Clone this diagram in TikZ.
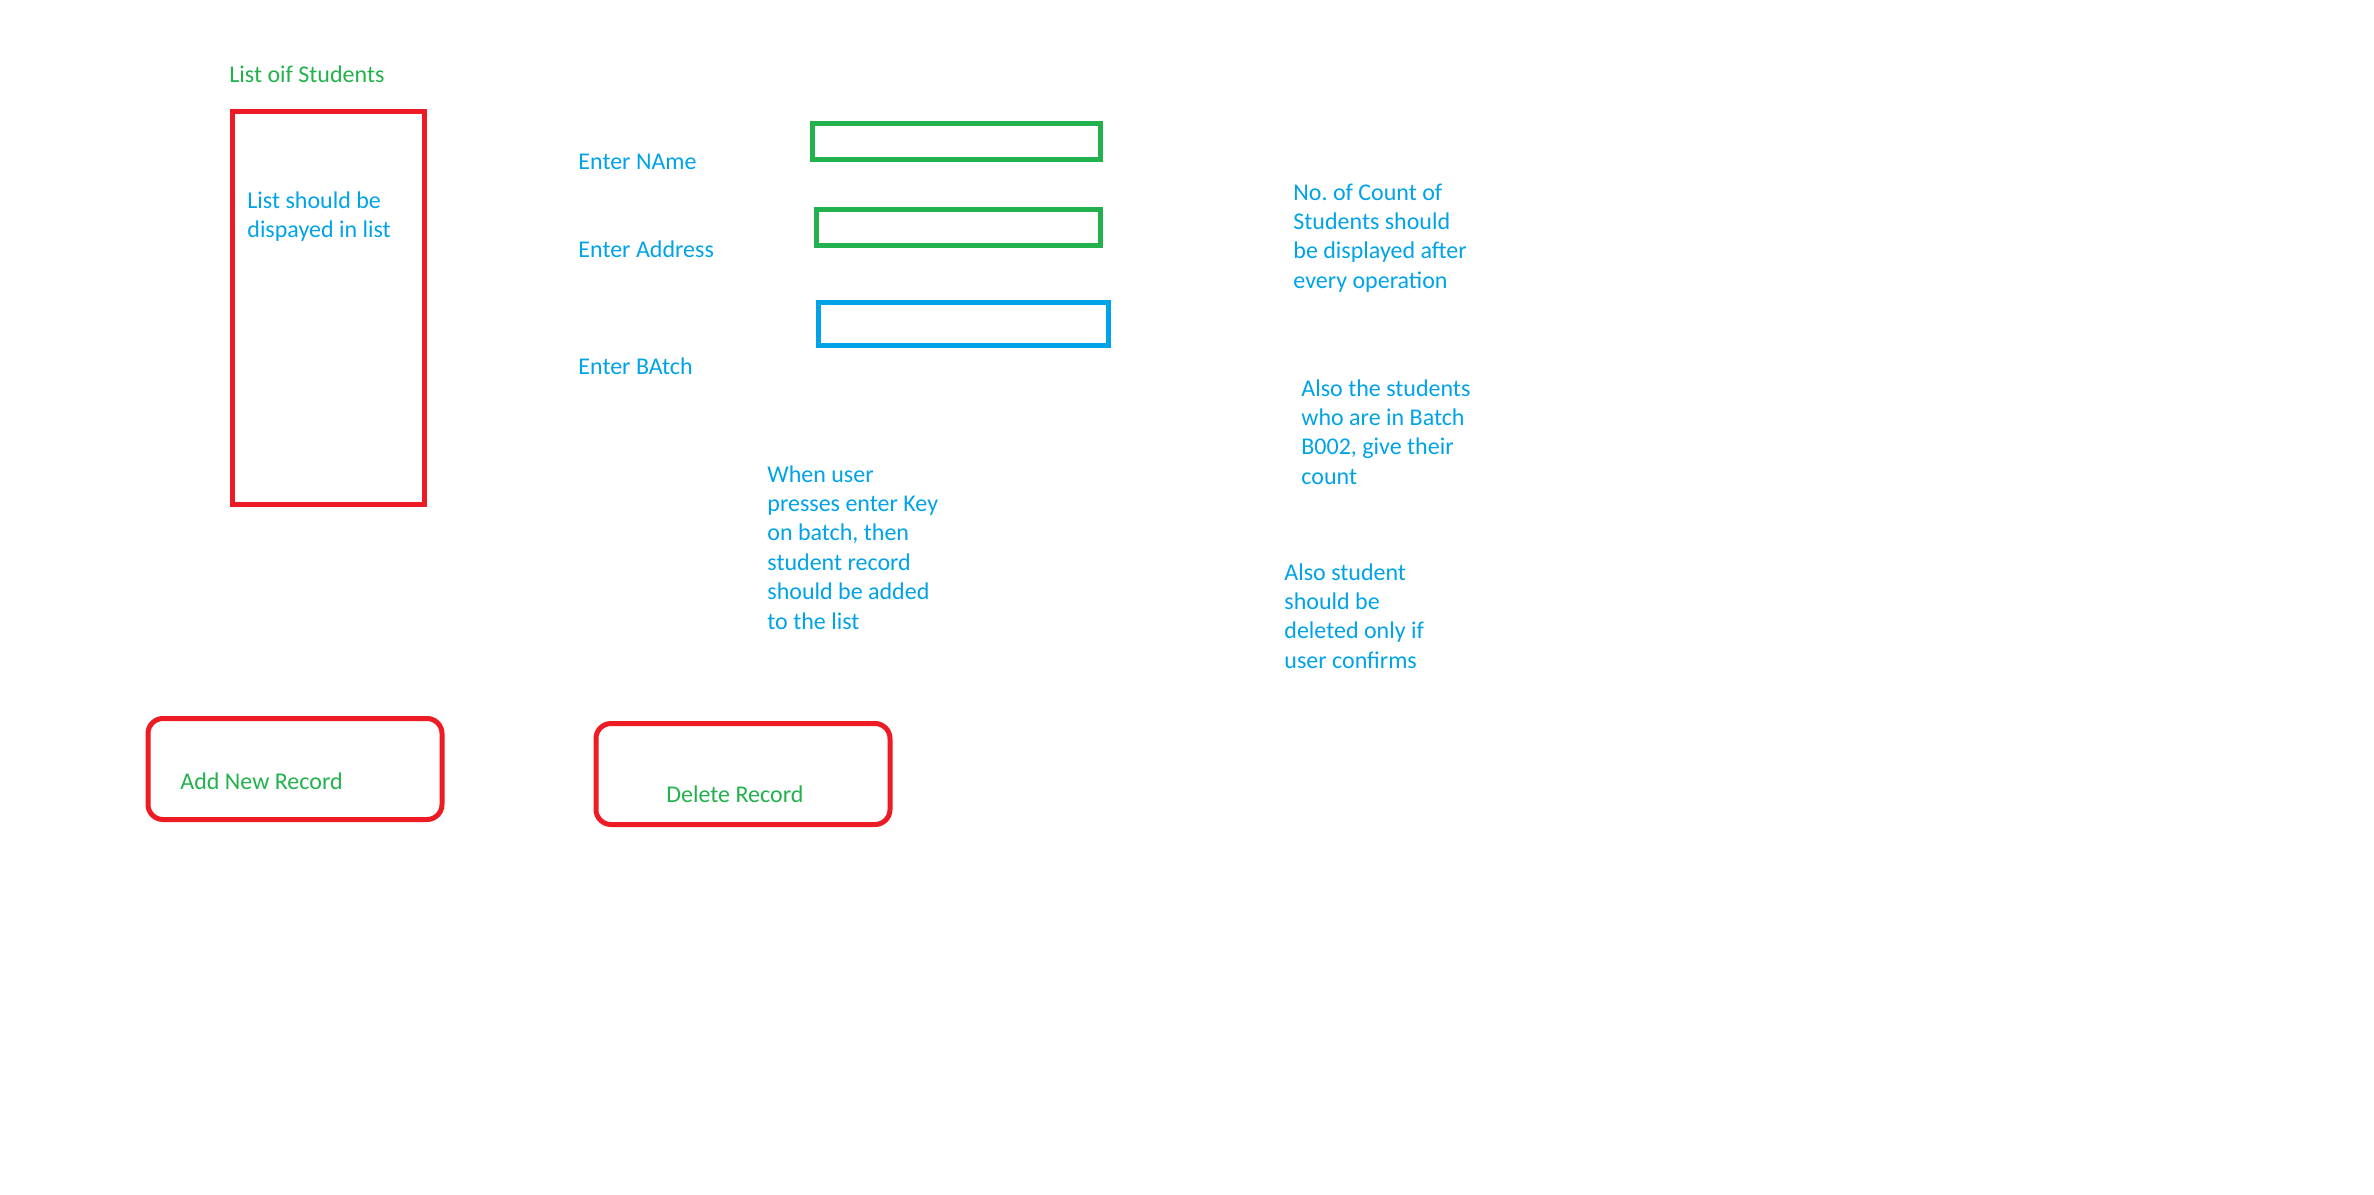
\documentclass[tikz,border=0pt]{standalone}
\usepackage{fontspec}
\setmainfont{Carlito}
\definecolor{sketchred}{HTML}{ED1C24}
\definecolor{sketchgreen}{HTML}{22B14C}
\definecolor{sketchblue}{HTML}{00A2E8}
\begin{document}
\begin{tikzpicture}[
  x=0.5pt, y=-0.5pt,
  every node/.style={font=\fontsize{12pt}{14.7pt}\selectfont\frenchspacing},
  note/.style={anchor=base west, inner sep=0, align=left, text=sketchblue},
  caption/.style={anchor=base west, inner sep=0, text=sketchgreen},
  field/.style={draw, line width=2.5pt, inner sep=0, minimum height=18pt},
  button/.style={draw=sketchred, line width=2.5pt, rounded corners=7.5pt, inner sep=0, minimum width=146pt, minimum height=50.5pt}
]
\useasboundingbox (0,0) rectangle (2374,1195);

\node[caption] (title) at (229,82) {List oif Students};
\node[draw=sketchred, line width=2.5pt, inner sep=0, minimum width=96pt, minimum height=196.5pt] (list) at (328.5,308) {};
\node[note] (listnote) at (247,237.4) {List should be\\dispayed in list};

\node[note] (namelabel) at (578,169) {Enter NAme};
\node[note] (addresslabel) at (578,257) {Enter Address};
\node[note] (batchlabel) at (578,374) {Enter BAtch};
\node[field, draw=sketchgreen, minimum width=144pt] (namefield) at (956,141.5) {};
\node[field, draw=sketchgreen, minimum width=142pt] (addressfield) at (958,227.5) {};
\node[field, draw=sketchblue, minimum width=145pt, minimum height=21.5pt] (batchfield) at (963,324) {};

% multi-line notes sit on the baseline of their last line
\node[note] (enternote) at (767,629) {When user\\presses enter Key\\on batch, then\\student record\\should be added\\to the list};
\node[note] (countnote) at (1293,288.2) {No. of Count of\\Students should\\be displayed after\\every operation};
\node[note] (batchnote) at (1301,484.2) {Also the students\\who are in Batch\\B002, give their\\count};
\node[note] (deletenote) at (1284,668.2) {Also student\\should be\\deleted only if\\user confirms};

\node[button, minimum width=147pt] (addbutton) at (295,769) {};
\node[caption] (addtext) at (180,789) {Add New Record};
\node[button, minimum width=147pt] (deletebutton) at (743,774) {};
\node[caption] (deletetext) at (666,802) {Delete Record};
\end{tikzpicture}
\end{document}
